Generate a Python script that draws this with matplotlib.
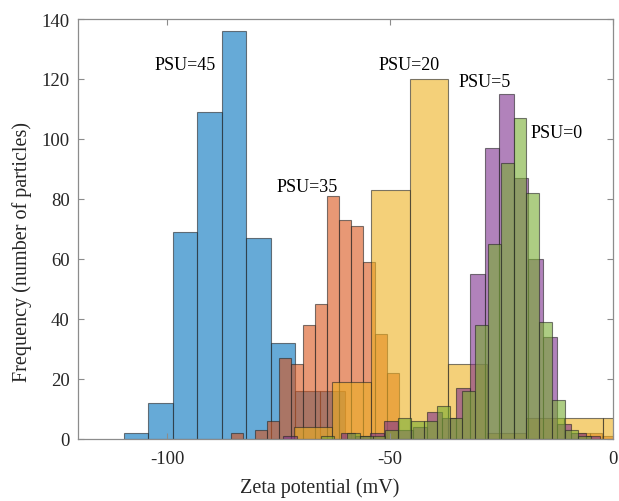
## Zeta potential histograms for different salinities (PSU)
import numpy as np
import matplotlib.pyplot as plt
from matplotlib.colors import to_rgba

plt.rcParams['font.family'] = ['Liberation Serif', 'DejaVu Serif']
plt.rcParams['axes.unicode_minus'] = False

# bin start (mV), bin width (mV), counts per bin
psu45_start, psu45_width = -109.7, 5.5
psu45_counts = [2, 12, 69, 109, 136, 67, 32, 16, 16]

psu35_start, psu35_width = -85.6, 2.68
psu35_counts = [2, 0, 3, 6, 27, 25, 38, 45, 81, 73, 71, 59, 35, 22,
                0, 0, 0, 0, 0, 0, 0, 0, 0, 0, 0, 0, 0, 0, 0, 2, 2, 1]

psu20_start, psu20_width = -71.6, 8.67
psu20_counts = [4, 19, 83, 120, 25, 2, 7, 7, 7]

psu5_start, psu5_width = -74.0, 3.236
psu5_counts = [1, 0, 0, 0, 2, 1, 2, 6, 3, 4, 9, 7, 17, 55, 97, 115, 87,
               60, 34, 5, 2, 1]

psu0_start, psu0_width = -65.4, 2.876
psu0_counts = [1, 0, 2, 1, 1, 3, 7, 6, 6, 11, 7, 16, 38, 65, 92, 107, 82,
               39, 13, 3, 1]

series = [
    (psu45_start, psu45_width, psu45_counts, '#0072BD'),
    (psu35_start, psu35_width, psu35_counts, '#D95319'),
    (psu20_start, psu20_width, psu20_counts, '#EDB120'),
    (psu5_start, psu5_width, psu5_counts, '#7E2F8E'),
    (psu0_start, psu0_width, psu0_counts, '#77AC30'),
]

labels = ['PSU=45', 'PSU=35', 'PSU=20', 'PSU=5', 'PSU=0']
label_x = [-96.0, -68.5, -45.8, -28.8, -12.6]
label_y = [124.8, 84.2, 124.8, 119.2, 102.2]

##########################

fig = plt.figure(figsize=(6.19, 5.02), dpi=100)
ax = fig.add_axes([0.126, 0.1245, 0.864, 0.8355])

for start, width, counts, col in series:
    counts = np.array(counts)
    lefts = start + width*np.arange(len(counts))
    keep = counts > 0
    ax.bar(lefts[keep], counts[keep], width=width, align='edge',
           facecolor=to_rgba(col, 0.6), edgecolor=(0.15, 0.15, 0.15, 0.6),
           linewidth=0.8)

for txt, x, y in zip(labels, label_x, label_y):
    ax.text(x, y, txt, ha='center', va='center', fontsize=13, color='black')

ax.set_xlim(-120, 0)
ax.set_ylim(0, 140)
ax.set_xticks([-100, -50, 0])
ax.set_yticks(np.arange(0, 141, 20))

# matlab style box
for sp in ax.spines.values():
    sp.set_color('#8c8c8c')
    sp.set_linewidth(0.9)
ax.tick_params(direction='in', length=4, width=0.8, color='#8c8c8c',
               top=True, right=True, labelsize=13.5, labelcolor='#262626')
ax.tick_params(axis='y', pad=6)
ax.tick_params(axis='x', pad=8)

ax.set_xlabel('Zeta potential (mV)', fontsize=14.5, color='#262626')
ax.set_ylabel('Frequency (number of particles)', fontsize=14.5, color='#262626')
ax.xaxis.set_label_coords(0.452, -0.093)
ax.yaxis.set_label_coords(-0.086, 0.447)

fig.savefig('out.png', dpi=100)
